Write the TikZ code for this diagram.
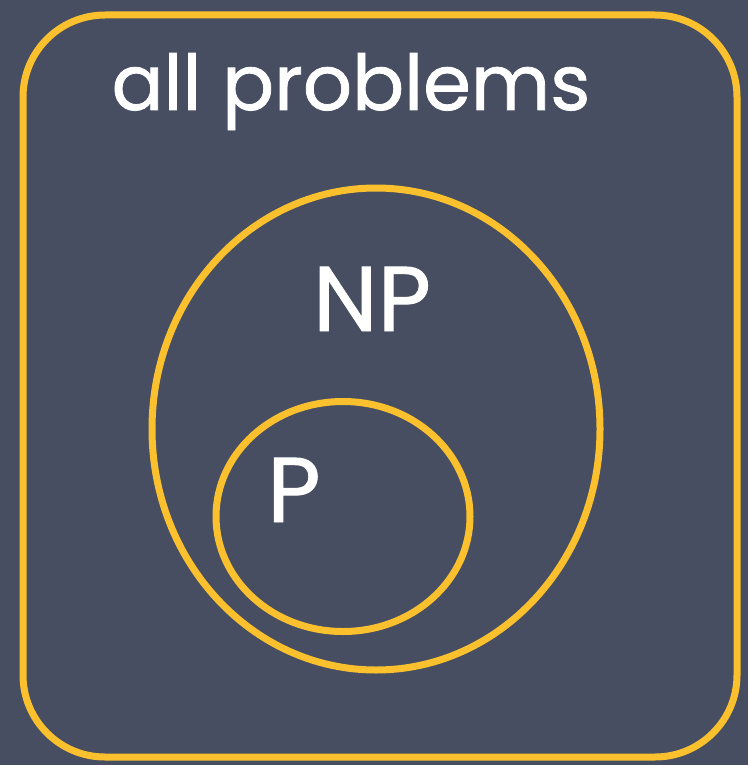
\documentclass[tikz,border=0pt]{standalone}
\usepackage{fontspec}
\setmainfont{Poppins}
\newfontfamily\popbold[FakeBold=1.0]{Poppins}
\definecolor{slate}{HTML}{474E61}
\definecolor{gold}{HTML}{FBC02D}
\begin{document}
\begin{tikzpicture}[x=1pt,y=-1pt,
  setline/.style={draw=gold,line width=7pt},
  lbl/.style={text=white,inner sep=0pt,anchor=base}]
\fill[slate] (0,0) rectangle (748,765);
\useasboundingbox (0,0) rectangle (748,765);
\draw[setline,rounded corners=82pt] (23,15) rectangle (737,757);
\draw[setline] (376,429) ellipse [x radius=224, y radius=241];
\draw[setline] (343,516.5) ellipse [x radius=127, y radius=115];
\node[lbl,font=\popbold\fontsize{77}{90}\selectfont] (all) at (351,110) {all problems};
\node[lbl,font=\popbold\fontsize{92}{100}\selectfont] (np) at (372,331) {NP};
\node[lbl,font=\popbold\fontsize{92}{100}\selectfont] (p) at (294,522) {P};
\end{tikzpicture}
\end{document}
